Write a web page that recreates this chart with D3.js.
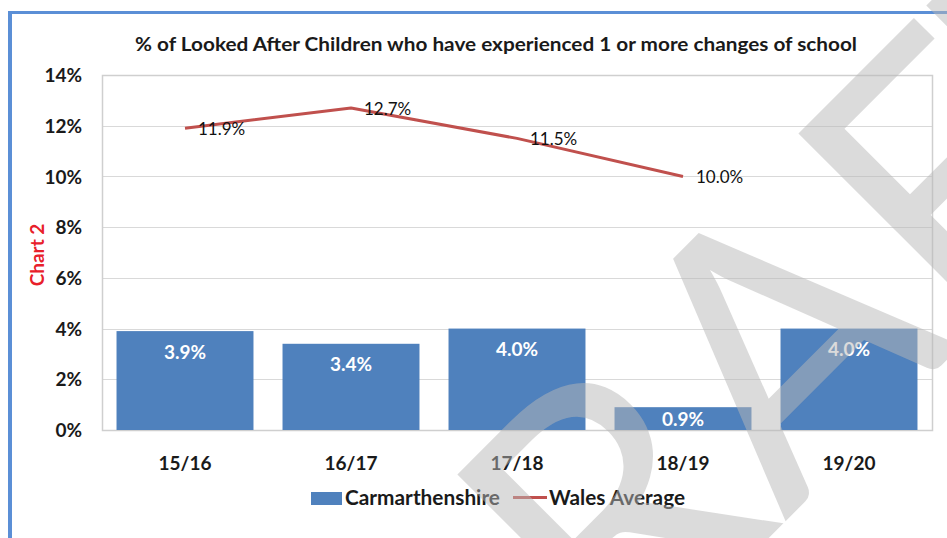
<!DOCTYPE html>
<html>
<head>
<meta charset="utf-8">
<script src="https://cdn.jsdelivr.net/npm/d3@7"></script>
<style>
  html, body { margin: 0; padding: 0; background: #ffffff; }
  svg { display: block; font-family: Lato, "Open Sans", sans-serif; }
</style>
</head>
<body>
<svg id="chart" width="947" height="538"></svg>
<script>
// ---- data ----
const categories = ["15/16", "16/17", "17/18", "18/19", "19/20"];
const carmarthenshire = [3.9, 3.4, 4.0, 0.9, 4.0];
const walesAverage = [11.9, 12.7, 11.5, 10.0, null];
const yTicks = [0, 2, 4, 6, 8, 10, 12, 14];
const seriesNames = ["Carmarthenshire", "Wales Average"];
const titleText = "% of Looked After Children who have experienced 1 or more changes of school";
const sideLabel = "Chart 2";
const watermarkText = "DRAFT";

// ---- layout ----
const W = 947, H = 538;
const plot = { left: 102, right: 932, top: 75, bottom: 430 };
const barColor = "#4f81bd", lineColor = "#c0504d", gridColor = "#d9d9d9";

const svg = d3.select("#chart");

// frame
svg.append("rect").attr("x", 0).attr("y", 0).attr("width", W).attr("height", H).attr("fill", "#fff");
svg.append("rect").attr("x", 8).attr("y", 11).attr("width", W - 8).attr("height", 3).attr("fill", "#5b8fd6");
svg.append("rect").attr("x", 8).attr("y", 11).attr("width", 4).attr("height", H - 11).attr("fill", "#5b8fd6");

const x = d3.scaleBand().domain(categories).range([plot.left, plot.right])
  .paddingInner(0.175).paddingOuter(0.0875);
const y = d3.scaleLinear().domain([0, 14]).range([plot.bottom, plot.top]);

// gridlines
svg.append("g").selectAll("line").data(yTicks).join("line")
  .attr("x1", plot.left).attr("x2", plot.right)
  .attr("y1", d => Math.round(y(d)) + 0.5).attr("y2", d => Math.round(y(d)) + 0.5)
  .attr("stroke", gridColor).attr("stroke-width", 1);

// plot box
svg.append("rect").attr("x", plot.left + 0.5).attr("y", plot.top + 0.5)
  .attr("width", plot.right - plot.left).attr("height", plot.bottom - plot.top)
  .attr("fill", "none").attr("stroke", "#cfcfcf").attr("stroke-width", 1.5);

// y axis
const yAxis = d3.axisLeft(y).tickValues(yTicks).tickFormat(d => d + "%").tickSize(0).tickPadding(0);
const gy = svg.append("g").attr("transform", `translate(82,0)`).call(yAxis);
gy.select(".domain").remove();
gy.selectAll("text").attr("font-size", 19).attr("font-weight", "bold").attr("fill", "#1a1a1a")
  .attr("font-family", "Lato, sans-serif").attr("dy", "0.35em");

// x axis
const xAxis = d3.axisBottom(x).tickSize(0).tickPadding(0);
const gx = svg.append("g").attr("transform", `translate(0,${plot.bottom})`).call(xAxis);
gx.select(".domain").remove();
gx.selectAll("text").attr("font-size", 19).attr("font-weight", "bold").attr("fill", "#1a1a1a")
  .attr("font-family", "Lato, sans-serif").attr("y", 33).attr("dy", "0.35em");

// bars
const barData = categories.map((c, i) => ({ c, v: carmarthenshire[i] }));
svg.append("g").selectAll("rect").data(barData).join("rect")
  .attr("x", d => x(d.c)).attr("width", x.bandwidth())
  .attr("y", d => y(d.v)).attr("height", d => y(0) - y(d.v))
  .attr("fill", barColor);

svg.append("g").selectAll("text").data(barData).join("text")
  .attr("x", d => x(d.c) + x.bandwidth() / 2)
  .attr("y", d => Math.min(y(d.v) + 21, (y(d.v) + y(0)) / 2 + 1))
  .attr("dy", "0.35em").attr("text-anchor", "middle")
  .attr("font-size", 19).attr("font-weight", "bold").attr("fill", "#ffffff")
  .text(d => d.v.toFixed(1) + "%");

// line
const lineData = categories.map((c, i) => ({ c, v: walesAverage[i] })).filter(d => d.v !== null);
const line = d3.line().x(d => x(d.c) + x.bandwidth() / 2).y(d => y(d.v));
svg.append("path").datum(lineData).attr("d", line)
  .attr("fill", "none").attr("stroke", lineColor).attr("stroke-width", 3).attr("stroke-linejoin", "round");

svg.append("g").selectAll("text").data(lineData).join("text")
  .attr("x", d => x(d.c) + x.bandwidth() / 2 + 13)
  .attr("y", d => y(d.v) + 1).attr("dy", "0.35em")
  .attr("font-size", 17).attr("fill", "#111")
  .text(d => d.v.toFixed(1) + "%");

// title
svg.append("text").attr("x", 496).attr("y", 44).attr("dy", "0.35em").attr("text-anchor", "middle")
  .attr("font-size", 19).attr("font-weight", "bold").attr("fill", "#1a1a1a")
  .attr("textLength", 722).attr("lengthAdjust", "spacingAndGlyphs")
  .text(titleText);

// side label
svg.append("text").attr("transform", "translate(37,255) rotate(-90)")
  .attr("dy", "0.35em").attr("text-anchor", "middle")
  .attr("font-size", 19).attr("font-weight", "bold").attr("fill", "#e8202a")
  .text(sideLabel);

// legend
const lg = svg.append("g");
lg.append("rect").attr("x", 311).attr("y", 492).attr("width", 31).attr("height", 13).attr("fill", barColor);
lg.append("text").attr("x", 345).attr("y", 498).attr("dy", "0.35em")
  .attr("font-size", 20).attr("font-weight", "bold").attr("fill", "#1a1a1a")
  .attr("textLength", 155).attr("lengthAdjust", "spacingAndGlyphs").text(seriesNames[0]);
lg.append("line").attr("x1", 513).attr("x2", 547).attr("y1", 497.5).attr("y2", 497.5)
  .attr("stroke", lineColor).attr("stroke-width", 3);
lg.append("text").attr("x", 549).attr("y", 498).attr("dy", "0.35em")
  .attr("font-size", 20).attr("font-weight", "bold").attr("fill", "#1a1a1a")
  .attr("textLength", 136).attr("lengthAdjust", "spacingAndGlyphs").text(seriesNames[1]);

// watermark
const fs = 370;
const wg = svg.append("g");
const wt = wg.append("text").attr("x", 0).attr("y", 0).attr("font-size", fs)
  .attr("font-family", "Lato, sans-serif").attr("fill", "#b8b8b8").attr("fill-opacity", 0.5)
  .text(watermarkText);
const ext = wt.node().getExtentOfChar(2);
const px = ext.x + ext.width / 2, py = -0.72 * fs;
const c = Math.SQRT1_2;
const xr = c * (px + py), yr = c * (-px + py);
wg.attr("transform", `translate(${685 - xr},${245 - yr}) rotate(-45)`);
</script>
</body>
</html>
